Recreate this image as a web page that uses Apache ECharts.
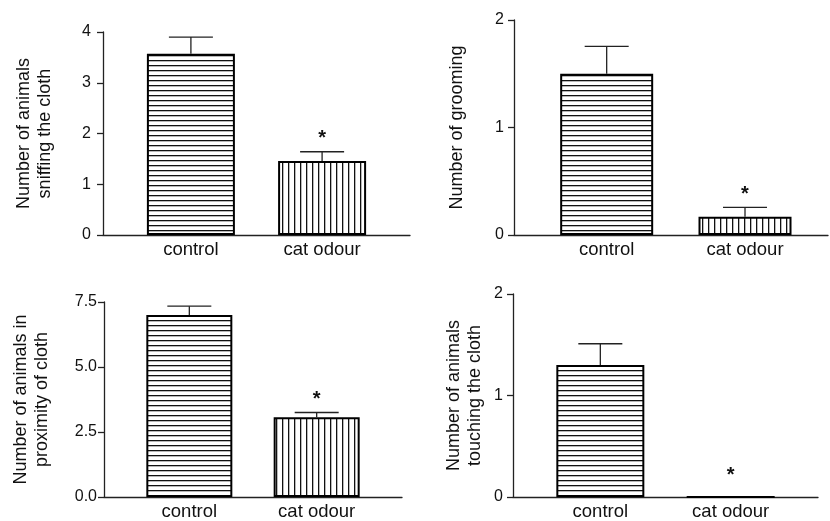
<!DOCTYPE html>
<html>
<head>
<meta charset="utf-8">
<script src="https://cdn.jsdelivr.net/npm/echarts@6/dist/echarts.min.js"></script>
<style>
  html, body { margin: 0; padding: 0; background: #fff; }
  #chart { width: 830px; height: 521px; }
</style>
</head>
<body>
<div id="chart"></div>
<script>
const categories = ['control', 'cat odour']
const sig = [false, true]

const sniffMean = [3.57, 1.46]
const sniffErr = [0.33, 0.18]
const sniffTicks = [0, 1, 2, 3, 4]

const groomMean = [1.5, 0.17]
const groomErr = [0.255, 0.087]
const groomTicks = [0, 1, 2]

const proxMean = [7.0, 3.07]
const proxErr = [0.34, 0.18]
const proxTicks = [0, 2.5, 5, 7.5]

const touchMean = [1.3, 0]
const touchErr = [0.21, 0]
const touchTicks = [0, 1, 2]

const FONT = 'Liberation Sans, Arial, sans-serif'

// striped fills
function stripes(horizontal) {
  const c = document.createElement('canvas')
  c.width = horizontal ? 4 : 6
  c.height = horizontal ? 5 : 4
  const ctx = c.getContext('2d')
  ctx.fillStyle = '#fff'
  ctx.fillRect(0, 0, c.width, c.height)
  ctx.fillStyle = '#111'
  if (horizontal) ctx.fillRect(0, 0, c.width, 1.3)
  else ctx.fillRect(0, 0, 1.3, c.height)
  return c
}
const fills = [
  { image: stripes(true), repeat: 'repeat' },
  { image: stripes(false), repeat: 'repeat' }
]

const panels = [
  { name: 'Number of animals\nsniffing the cloth', mean: sniffMean, err: sniffErr, ticks: sniffTicks,
    grid: { left: 103, right: 420, top: 32, bottom: 286 }, xMax: 1.67, barWidth: 88, nameGap: 47, labelMargin: 12, labelSize: 16, starGap: 17, fixed: 0 },
  { name: 'Number of grooming', mean: groomMean, err: groomErr, ticks: groomTicks,
    grid: { left: 514, right: 2, top: 20, bottom: 286 }, xMax: 1.6, barWidth: 93, nameGap: 46, labelMargin: 10, labelSize: 16, starGap: 17, fixed: 0 },
  { name: 'Number of animals in\nproximity of cloth', mean: proxMean, err: proxErr, ticks: proxTicks,
    grid: { left: 104, right: 428, top: 302, bottom: 23 }, xMax: 1.67, barWidth: 86, nameGap: 51, labelMargin: 7, labelSize: 16, starGap: 17, fixed: 1 },
  { name: 'Number of animals\ntouching the cloth', mean: touchMean, err: touchErr, ticks: touchTicks,
    grid: { left: 513, right: 12, top: 294, bottom: 24 }, xMax: 1.67, barWidth: 88, nameGap: 27, labelMargin: 10, labelSize: 16, starGap: 26, fixed: 0 }
]

const chart = echarts.init(document.getElementById('chart'))
const option = {
  animation: false,
  backgroundColor: '#fff',
  grid: [],
  xAxis: [],
  yAxis: [],
  series: []
}

panels.forEach((p, i) => {
  const tickStep = p.ticks[1] - p.ticks[0]
  option.grid.push(p.grid)
  option.xAxis.push({
    type: 'value',
    gridIndex: i,
    min: -0.67,
    max: p.xMax,
    axisLine: { show: true, onZero: false, lineStyle: { color: '#222', width: 1.3 } },
    axisTick: { show: false },
    splitLine: { show: false },
    axisLabel: {
      customValues: [0, 1],
      formatter: v => categories[Math.round(v)],
      color: '#111',
      fontSize: 18.5,
      fontFamily: FONT,
      margin: 5
    }
  })
  option.yAxis.push({
    type: 'value',
    gridIndex: i,
    min: p.ticks[0],
    max: p.ticks[p.ticks.length - 1],
    interval: tickStep,
    name: p.name,
    nameLocation: 'middle',
    nameGap: p.nameGap,
    nameTextStyle: { color: '#111', fontSize: 18, fontFamily: FONT, lineHeight: 21 },
    axisLine: { show: true, onZero: false, lineStyle: { color: '#222', width: 1.3 } },
    axisTick: { show: true, length: 6, lineStyle: { color: '#222', width: 1.3 } },
    splitLine: { show: false },
    axisLabel: {
      color: '#111',
      fontSize: p.labelSize,
      fontFamily: FONT,
      margin: p.labelMargin,
      formatter: v => v.toFixed(p.fixed)
    }
  })
  option.series.push({
    type: 'bar',
    xAxisIndex: i,
    yAxisIndex: i,
    barWidth: p.barWidth,
    data: p.mean.map((m, k) => ({
      value: [k, m],
      itemStyle: { color: fills[k], borderColor: '#000', borderWidth: 2 }
    }))
  })
  option.series.push({
    type: 'custom',
    xAxisIndex: i,
    yAxisIndex: i,
    z: 5,
    data: p.mean.map((m, k) => [k, m, p.err[k], sig[k] ? 1 : 0]),
    renderItem: function(params, api) {
      const x = api.value(0)
      const m = api.value(1)
      const e = api.value(2)
      const base = api.coord([x, m])
      const top = api.coord([x, m + e])
      const children = []
      const ls = { stroke: '#222', lineWidth: 1.3 }
      if (e > 0) {
        children.push({ type: 'line', shape: { x1: base[0], y1: base[1], x2: top[0], y2: top[1] }, style: ls })
        children.push({ type: 'line', shape: { x1: top[0] - 22, y1: top[1], x2: top[0] + 22, y2: top[1] }, style: ls })
      }
      if (api.value(3)) {
        children.push({
          type: 'text',
          style: {
            text: '*', x: top[0], y: top[1] - p.starGap + 4,
            align: 'center', verticalAlign: 'middle',
            font: 'bold 20px ' + FONT, fill: '#111'
          }
        })
      }
      return { type: 'group', children: children }
    }
  })
})

chart.setOption(option)
</script>
</body>
</html>
